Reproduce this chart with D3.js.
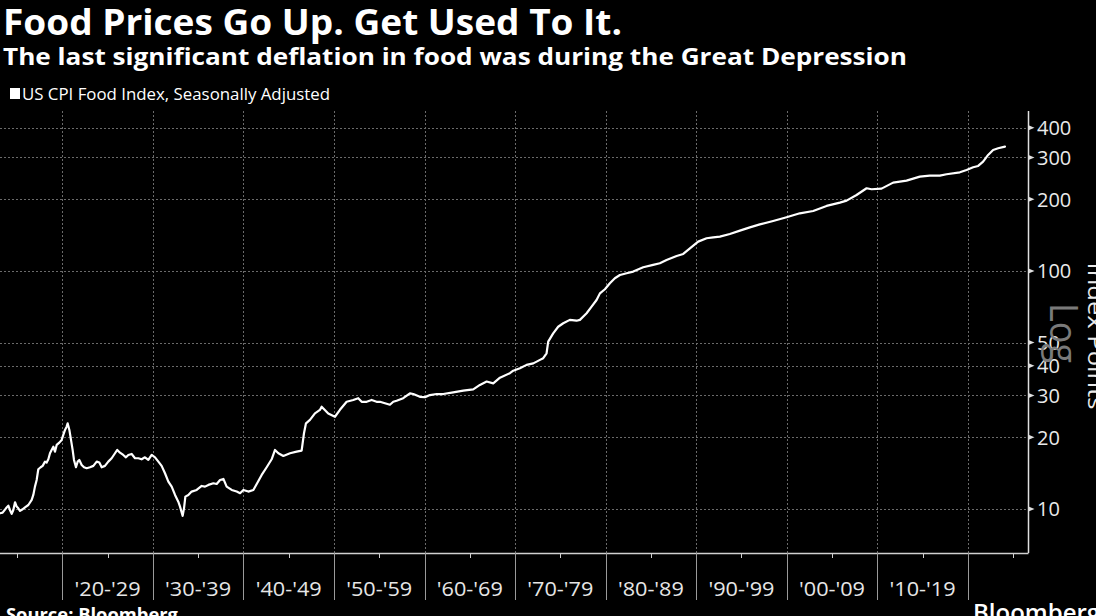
<!DOCTYPE html>
<html>
<head>
<meta charset="utf-8">
<script src="https://cdn.jsdelivr.net/npm/d3@7"></script>
<style>
html,body{margin:0;padding:0;background:#000;overflow:hidden;}
svg{display:block;font-family:"Open Sans","Noto Sans",sans-serif;}
</style>
</head>
<body>
<svg id="chart" width="1096" height="616"></svg>
<script>
// ---------- data ----------
const years = [
 1913.12,1913.41,1913.78,1914.04,1914.22,1914.41,1914.59,1914.78,1914.96,1915.14,1915.33,1915.62,1915.88,
 1916.25,1916.62,1916.80,1916.98,1917.17,1917.35,1917.61,1917.83,1918.09,1918.27,1918.46,1918.64,1918.82,
 1919.01,1919.19,1919.38,1919.67,1919.93,1920.11,1920.30,1920.48,1920.59,1920.78,1920.96,1921.14,1921.29,
 1921.51,1921.70,1921.88,1922.14,1922.40,1922.69,1923.06,1923.43,1923.80,1924.09,1924.35,1924.71,1925.08,
 1925.45,1925.82,1926.07,1926.37,1926.73,1927.03,1927.29,1927.66,1928.03,1928.40,1928.76,1929.13,1929.50,
 1929.87,1930.24,1930.61,1930.97,1931.34,1931.71,1932.08,1932.45,1932.81,1933.00,1933.29,1933.44,1933.59,
 1933.92,1934.28,1934.84,1935.39,1935.76,1936.13,1936.68,1937.05,1937.42,1937.79,1938.15,1938.71,1939.26,
 1939.63,1940.00,1940.54,1941.10,1941.47,1942.02,1942.57,1943.12,1943.49,1943.86,1944.41,1945.15,1945.88,
 1946.43,1946.69,1946.91,1947.35,1947.90,1948.45,1948.64,1949.37,1950.11,1950.66,1951.40,1952.13,1952.68,
 1953.06,1953.61,1954.16,1954.71,1955.08,1955.63,1956.18,1956.55,1956.92,1957.65,1958.39,1958.76,1959.49,
 1960.05,1960.60,1961.34,1962.07,1963.17,1964.28,1965.38,1966.12,1966.86,1967.59,1968.33,1969.43,1969.80,
 1970.54,1971.27,1972.01,1972.75,1973.11,1973.48,1973.66,1974.21,1974.76,1975.32,1976.05,1976.79,1977.16,
 1977.90,1978.45,1979.00,1979.37,1979.92,1980.47,1981.02,1981.58,1982.32,1983.05,1984.15,1985.25,1985.99,
 1986.73,1987.84,1988.57,1989.31,1990.22,1991.15,1991.88,1992.62,1993.72,1994.83,1995.93,1997.03,1998.50,
 1999.98,2001.45,2002.92,2004.40,2005.87,2006.61,2007.71,2008.82,2009.37,2010.47,2011.75,2013.23,2014.70,
 2015.80,2016.91,2017.65,2019.12,2019.86,2020.59,2021.14,2021.69,2022.24,2022.79,2023.35,2024.10
];
const cpiFood = [
 9.59,9.65,10.06,10.33,9.90,9.53,9.90,10.67,10.23,10.06,9.81,9.97,10.16,
 10.39,10.91,11.45,12.41,13.24,14.68,14.97,15.17,15.81,15.66,16.17,17.14,17.70,
 18.27,17.41,18.58,19.0,19.5,20.47,21.48,22.18,22.9,21.48,19.5,17.70,16.07,
 14.97,15.81,16.07,15.31,14.97,14.83,14.97,15.17,15.81,15.66,14.97,15.17,15.81,
 16.33,17.14,17.70,17.24,16.86,16.48,16.86,17.02,16.33,16.33,16.17,16.48,16.07,
 16.86,16.48,15.81,15.17,14.13,13.03,12.41,11.45,10.73,10.23,9.35,10.06,11.27,
 11.45,11.83,12.02,12.49,12.41,12.62,12.82,12.73,13.24,13.37,12.41,12.02,11.83,
 11.64,12.02,11.83,12.02,12.73,13.9,14.97,16.17,17.70,17.14,16.7,17.14,17.41,
 17.58,20.8,22.9,23.66,25.23,26.06,26.9,25.2,24.4,26.1,28.2,28.7,29.2,
 28.2,28.2,28.7,28.2,28.2,27.8,27.4,28.2,28.5,29.2,30.6,30.4,29.6,
 29.5,30.1,30.4,30.4,30.9,31.4,31.8,33.2,34.3,33.7,35.6,37.2,38.1,
 39.0,40.3,40.9,42.3,43.0,45.1,50.5,54.7,58.3,60.3,62.3,61.8,62.3,
 66.4,70.8,75.5,80.5,83.8,88.8,93.2,96.2,97.8,99.4,103.6,106.0,107.7,
 111.2,115.6,117.9,124.5,132.8,137.2,138.5,139.4,143.0,147.7,152.5,157.0,162.2,
 168.1,174.7,178.6,187.6,193.7,197.5,208.6,222.6,220.4,221.8,235.0,239.6,249.1,
 251.5,251.5,254.8,259.7,265.7,272.7,276.2,288.0,307.3,322.5,327.7,333
];
const yTicks = [10, 20, 30, 40, 50, 100, 200, 300, 400];
const decadeStarts = [1920, 1930, 1940, 1950, 1960, 1970, 1980, 1990, 2000, 2010, 2020];
const decadeLabels = ["'20-'29","'30-'39","'40-'49","'50-'59","'60-'69","'70-'79","'80-'89","'90-'99","'00-'09","'10-'19"];
const minorTicks = [1915,1925,1935,1945,1955,1965,1975,1985,1995,2005,2015,2025];
const title = "Food Prices Go Up. Get Used To It.";
const subtitle = "The last significant deflation in food was during the Great Depression";
const legendLabel = "US CPI Food Index, Seasonally Adjusted";
const yAxisTitle = "Index Points";
const source = "Source: Bloomberg";

// ---------- layout ----------
const svg = d3.select("#chart");
const W = 1096, H = 616;
const plot = {left: 0, right: 1028.5, top: 111, bottom: 553};

svg.append("rect").attr("width", W).attr("height", H).attr("fill", "#000");

const x = d3.scaleLinear().domain([1913.12, 2026.7]).range([plot.left, plot.right]);
const y = d3.scaleLog().domain([6.53, 470]).range([plot.bottom, plot.top]);

function fit(sel, w) {
  sel.attr("textLength", w).attr("lengthAdjust", "spacingAndGlyphs");
}

// titles
svg.append("text").attr("x", 3).attr("y", 35).attr("fill", "#fff")
  .attr("font-size", 35).attr("font-weight", 700).text(title).call(fit, 619);
svg.append("text").attr("x", 3).attr("y", 64.5).attr("fill", "#fff")
  .attr("font-size", 24).attr("font-weight", 700).text(subtitle).call(fit, 904);

// legend
svg.append("rect").attr("x", 10).attr("y", 88).attr("width", 10).attr("height", 11).attr("fill", "#fff");
svg.append("text").attr("x", 22).attr("y", 100).attr("fill", "#fff")
  .attr("font-size", 16).text(legendLabel).call(fit, 308);

// grid
const grid = svg.append("g").attr("stroke", "#6a6a6a").attr("stroke-width", 1).attr("stroke-dasharray", "2,2");
grid.selectAll("line.h").data(yTicks).join("line")
  .attr("x1", plot.left).attr("x2", plot.right)
  .attr("y1", d => Math.round(y(d)) + 0.5).attr("y2", d => Math.round(y(d)) + 0.5);
grid.selectAll("line.v").data(decadeStarts).join("line")
  .attr("x1", d => Math.round(x(d)) + 0.5).attr("x2", d => Math.round(x(d)) + 0.5)
  .attr("y1", plot.top).attr("y2", plot.bottom);

// x axis
const xa = svg.append("g");
xa.append("line").attr("x1", plot.left).attr("x2", plot.right)
  .attr("y1", plot.bottom + 0.5).attr("y2", plot.bottom + 0.5)
  .attr("stroke", "#d0d0d0").attr("stroke-width", 1.5);
xa.selectAll("line.major").data(decadeStarts).join("line")
  .attr("x1", d => Math.round(x(d)) + 0.5).attr("x2", d => Math.round(x(d)) + 0.5)
  .attr("y1", plot.bottom).attr("y2", 600)
  .attr("stroke", "#9a9a9a").attr("stroke-width", 1);
xa.selectAll("line.minor").data(minorTicks).join("line")
  .attr("x1", d => Math.round(x(d)) + 0.5).attr("x2", d => Math.round(x(d)) + 0.5)
  .attr("y1", plot.bottom).attr("y2", plot.bottom + 5)
  .attr("stroke", "#d0d0d0").attr("stroke-width", 1);
xa.selectAll("text").data(decadeLabels).join("text")
  .attr("x", (d, i) => x(decadeStarts[i] + 5)).attr("y", 596)
  .attr("text-anchor", "middle").attr("fill", "#e6e6e6").attr("font-size", 20)
  .text(d => d).call(fit, 66);

// y axis (right)
const ya = svg.append("g");
ya.append("line").attr("x1", plot.right).attr("x2", plot.right)
  .attr("y1", plot.top).attr("y2", plot.bottom)
  .attr("stroke", "#e0e0e0").attr("stroke-width", 1.5);
ya.selectAll("path").data(yTicks).join("path")
  .attr("d", d => { const yy = y(d); return `M${plot.right},${yy-2.5}L${plot.right+6},${yy}L${plot.right},${yy+2.5}Z`; })
  .attr("fill", "#e0e0e0");
ya.selectAll("text").data(yTicks).join("text")
  .attr("x", 1037).attr("y", d => y(d)).attr("dy", "0.36em")
  .attr("fill", "#eaeaea").attr("font-size", 20).text(d => d);

// "Log" watermark
svg.append("text").attr("transform", "translate(1050,333) rotate(90)")
  .attr("text-anchor", "middle").attr("fill", "#7a7a7a").attr("font-size", 38)
  .text("Log").call(fit, 60);
// y axis title (partly off-canvas)
svg.append("text").attr("transform", "translate(1088,336) rotate(90)")
  .attr("text-anchor", "middle").attr("fill", "#eaeaea").attr("font-size", 22)
  .text(yAxisTitle).call(fit, 147);

// series line
const pts = years.map((yr, i) => [yr, cpiFood[i]]);
svg.append("path").datum(pts)
  .attr("fill", "none").attr("stroke", "#fff").attr("stroke-width", 2.2)
  .attr("stroke-linejoin", "round").attr("stroke-linecap", "round")
  .attr("d", d3.line().x(d => x(d[0])).y(d => y(d[1])));

// footer
svg.append("text").attr("x", 6).attr("y", 620.5).attr("fill", "#fff")
  .attr("font-size", 18).attr("font-weight", 700).text(source).call(fit, 172);
svg.append("text").attr("x", 973).attr("y", 621).attr("fill", "#fff")
  .attr("font-size", 24).attr("font-weight", 600).text("Bloomberg");
</script>
</body>
</html>
